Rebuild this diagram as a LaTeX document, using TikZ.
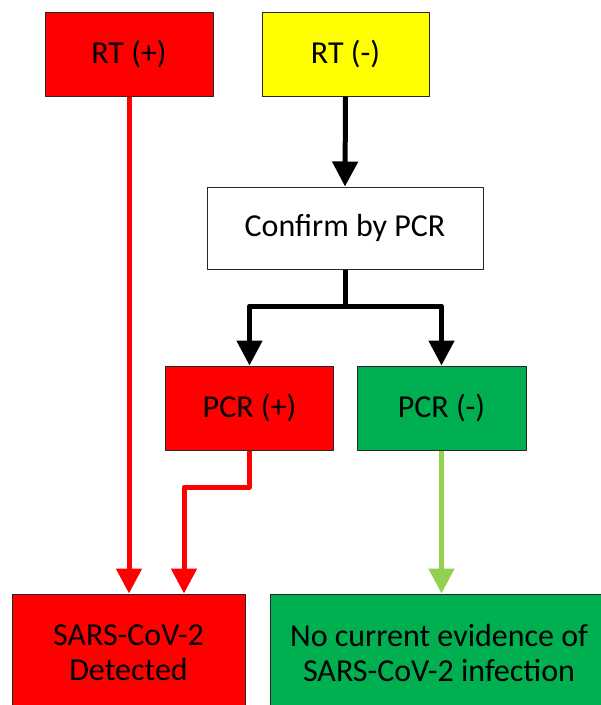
\documentclass[tikz,border=0pt]{standalone}
\usepackage{fontspec}
\setmainfont{Carlito}
\usepackage{tikz}
\usetikzlibrary{arrows.meta,positioning}

\definecolor{rtred}{HTML}{FF0000}
\definecolor{rtyellow}{HTML}{FFFF00}
\definecolor{pcrgreen}{HTML}{00B050}
\definecolor{lightgreen}{HTML}{92D050}

\begin{document}
\begin{tikzpicture}[x=1pt,y=-1pt,>={Triangle[width=25pt,length=25pt]},
  line join=round,
  main node/.style={rectangle,draw=black!85,line width=1pt,inner sep=0pt,
    align=center,font=\fontsize{32}{35}\selectfont},
  flow/.style={->,line width=5pt}]

  \clip (0,0) rectangle (601,705);

  \node[main node,fill=rtred,minimum width=168pt,minimum height=84pt] (rtp) at (129,54) {RT (+)};
  \node[main node,fill=rtyellow,minimum width=167pt,minimum height=84pt] (rtn) at (345.5,54) {RT (-)};
  \node[main node,fill=white,minimum width=276pt,minimum height=82pt] (confirm) at (345,228) {Confirm by PCR};
  \node[main node,fill=rtred,minimum width=168pt,minimum height=84pt] (pcrp) at (249.5,408) {PCR (+)};
  \node[main node,fill=pcrgreen,minimum width=169pt,minimum height=84pt] (pcrn) at (441.5,408) {PCR (-)};
  \node[main node,fill=rtred,minimum width=233pt,minimum height=118pt] (det) at (128.5,653) {SARS-CoV-2\\Detected};
  \node[main node,fill=pcrgreen,minimum width=338pt,minimum height=118pt] (noev) at (439,653) {No current evidence of\\SARS-CoV-2 infection};

  \coordinate (split) at (345,306);
  \coordinate (jog) at (184,487);

  % negative screen goes to PCR
  \draw[flow] (rtn.south) -- (confirm.north);
  \draw[line width=5pt] (confirm.south) -- (split);
  \draw[flow] (split) -| (pcrp.north);
  \draw[flow] (split) -| (pcrn.north);

  % results
  \draw[flow,rtred] (rtp.south) -- (rtp.south |- det.north);
  \draw[flow,rtred] (pcrp.south) |- (jog) -- (jog |- det.north);
  \draw[flow,lightgreen] (pcrn.south) -- (pcrn.south |- noev.north);
\end{tikzpicture}
\end{document}
